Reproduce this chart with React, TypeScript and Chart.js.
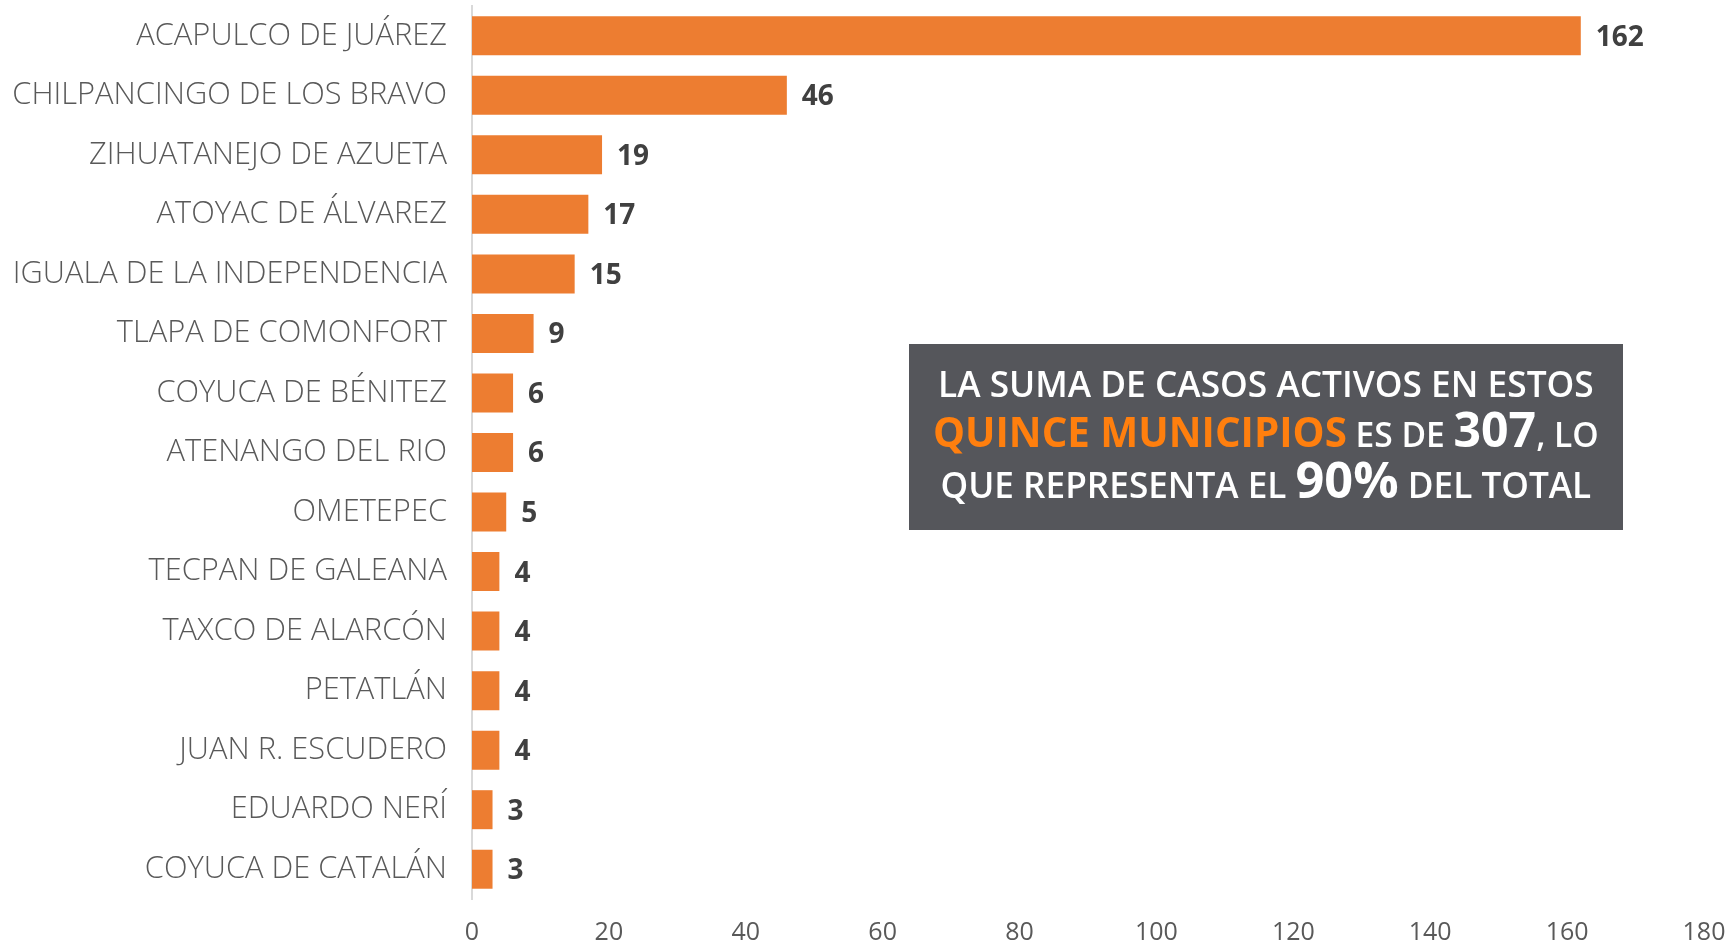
import React, { useEffect, useRef } from "react";
import { Chart, registerables } from "chart.js";
Chart.register(...registerables);

const categories = [
  "ACAPULCO DE JUÁREZ",
  "CHILPANCINGO DE LOS BRAVO",
  "ZIHUATANEJO DE AZUETA",
  "ATOYAC DE ÁLVAREZ",
  "IGUALA DE LA INDEPENDENCIA",
  "TLAPA DE COMONFORT",
  "COYUCA DE BÉNITEZ",
  "ATENANGO DEL RIO",
  "OMETEPEC",
  "TECPAN DE GALEANA",
  "TAXCO DE ALARCÓN",
  "PETATLÁN",
  "JUAN R. ESCUDERO",
  "EDUARDO NERÍ",
  "COYUCA DE CATALÁN",
];
const values = [162, 46, 19, 17, 15, 9, 6, 6, 5, 4, 4, 4, 4, 3, 3];
const xMin = 0;
const xMax = 180;
const xStep = 20;

const boxLines = [
  [{ t: "LA SUMA DE CASOS ACTIVOS EN ESTOS", s: 31, w: 600, c: "#FFFFFF" }],
  [
    { t: "QUINCE MUNICIPIOS", s: 36, w: 700, c: "#FF7F0E" },
    { t: " ES DE ", s: 30, w: 600, c: "#FFFFFF" },
    { t: "307", s: 43, w: 700, c: "#FFFFFF" },
    { t: ", LO", s: 30, w: 600, c: "#FFFFFF" },
  ],
  [
    { t: "QUE REPRESENTA EL ", s: 30, w: 600, c: "#FFFFFF" },
    { t: "90%", s: 43, w: 700, c: "#FFFFFF" },
    { t: " DEL TOTAL", s: 30, w: 600, c: "#FFFFFF" },
  ],
];
const boxLineWidths = [656, 666, 651];
const boxLineBaselines = [53, 103, 154];

const FONT = "'Open Sans', 'DejaVu Sans', sans-serif";

const valueLabelPlugin = {
  id: "valueLabels",
  afterDatasetsDraw(chart: any) {
    const ctx = chart.ctx;
    const meta = chart.getDatasetMeta(0);
    ctx.save();
    ctx.font = `700 28px ${FONT}`;
    ctx.fillStyle = "#404040";
    ctx.textAlign = "left";
    ctx.textBaseline = "middle";
    meta.data.forEach((bar: any, i: number) => {
      ctx.fillText(String(values[i]), bar.x + 15, bar.y + 2);
    });
    ctx.restore();
  },
};

const boxPlugin = {
  id: "summaryBox",
  afterDraw(chart: any) {
    const ctx = chart.ctx;
    const bx = 909, by = 344, bw = 714, bh = 186;
    ctx.save();
    ctx.fillStyle = "#55565B";
    ctx.fillRect(bx, by, bw, bh);
    ctx.textBaseline = "alphabetic";
    ctx.textAlign = "left";
    const cx = bx + bw / 2;
    boxLines.forEach((pieces, li) => {
      let total = 0;
      pieces.forEach((p) => {
        ctx.font = `${p.w} ${p.s}px ${FONT}`;
        total += ctx.measureText(p.t).width;
      });
      const k = boxLineWidths[li] / total;
      let x = cx - (total * k) / 2;
      pieces.forEach((p) => {
        ctx.font = `${p.w} ${p.s * k}px ${FONT}`;
        ctx.fillStyle = p.c;
        ctx.fillText(p.t, x, by + boxLineBaselines[li]);
        x += ctx.measureText(p.t).width;
      });
    });
    ctx.restore();
  },
};

export default function App() {
  const ref = useRef<HTMLCanvasElement | null>(null);
  useEffect(() => {
    document.body.style.margin = "0";
    const canvas = ref.current;
    if (!canvas) return;
    const chart = new Chart(canvas, {
      type: "bar",
      data: {
        labels: categories,
        datasets: [
          {
            data: values,
            backgroundColor: "#ED7D31",
            borderWidth: 0,
            barPercentage: 0.655,
            categoryPercentage: 1,
          },
        ],
      },
      options: {
        indexAxis: "y",
        responsive: false,
        maintainAspectRatio: false,
        animation: false,
        layout: { padding: { top: 6, right: 25, left: 0, bottom: 0 } },
        plugins: {
          legend: { display: false },
          tooltip: { enabled: false },
          title: { display: false },
        },
        scales: {
          x: {
            min: xMin,
            max: xMax,
            ticks: {
              stepSize: xStep,
              color: "#595959",
              font: { family: FONT, size: 25, weight: 400 as any },
              padding: 19,
            },
            grid: { display: false, drawTicks: false },
            border: { display: false },
            afterFit(scale: any) {
              scale.height = 45;
              scale.paddingLeft = 0;
              scale.paddingRight = 0;
            },
          },
          y: {
            ticks: {
              color: "#595959",
              font: { family: FONT, size: 30.8, weight: 300 as any },
              padding: 25,
              autoSkip: false,
            },
            grid: { display: false, drawTicks: false },
            border: { display: true, color: "#D9D9D9", width: 2 },
            afterFit(scale: any) {
              scale.width = 472;
              scale.paddingTop = 0;
              scale.paddingBottom = 0;
            },
          },
        },
      },
      plugins: [valueLabelPlugin, boxPlugin],
    });
    return () => chart.destroy();
  }, []);
  return (
    <div style={{ width: 1729, height: 944, overflow: "hidden", background: "#FFFFFF" }}>
      <canvas ref={ref} width={1729} height={944} style={{ display: "block" }} />
    </div>
  );
}
